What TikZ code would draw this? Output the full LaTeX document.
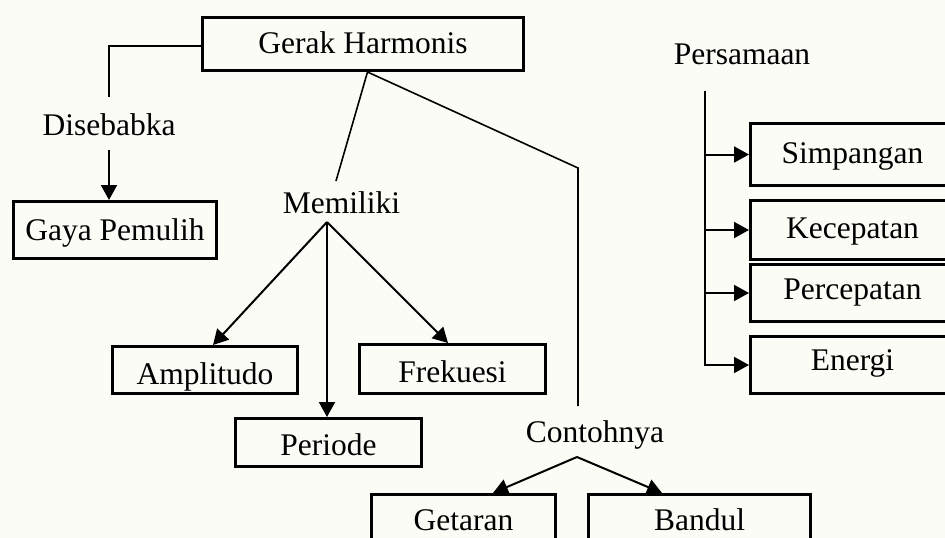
\documentclass[tikz,border=0pt]{standalone}
\usepackage{fontspec}
\setmainfont{Liberation Serif}
\usetikzlibrary{arrows.meta}
\definecolor{paper}{RGB}{252,252,247}
\tikzset{
  box/.style={draw, line width=3pt, inner sep=0pt, text depth=0pt, anchor=center},
  word/.style={inner sep=0pt, anchor=base},
  link/.style={line width=1.6pt},
  arr/.style={line width=2pt, -{Triangle[length=15pt,width=16pt]}},
}
\begin{document}
\begin{tikzpicture}[x=1pt, y=-1pt, font=\fontsize{31.5pt}{37pt}\selectfont]
  \useasboundingbox (0,0) rectangle (945,538);
  \clip (0,0) rectangle (945,538);
  \fill[paper] (0,0) rectangle (945,538);

  % boxes
  \node[box, minimum width=321pt, minimum height=53pt, text height=18pt] (gh) at (363,44) {Gerak Harmonis};
  \node[box, minimum width=203pt, minimum height=57pt, text height=20pt] (gp) at (115,230) {Gaya Pemulih};
  \node[box, minimum width=185pt, minimum height=47pt, text height=28pt] (amp) at (205,370) {Amplitudo};
  \node[box, minimum width=186pt, minimum height=48pt, text height=25pt] (per) at (328.5,442.5) {Periode};
  \node[box, minimum width=186pt, minimum height=49pt, text height=26pt] (frek) at (452.5,369) {Frekuesi};
  \node[box, minimum width=204pt, minimum height=62pt, text height=17pt] (simp) at (852.5,154.5) {Simpangan};
  \node[box, minimum width=204pt, minimum height=59pt, text height=16pt] (kec) at (852.5,230) {Kecepatan};
  \node[box, minimum width=204pt, minimum height=57pt, text height=12pt] (perc) at (852.5,293) {Percepatan};
  \node[box, minimum width=204pt, minimum height=57pt, text height=10pt] (energ) at (852.5,365) {Energi};
  \node[box, minimum width=184pt, minimum height=53pt, text height=18pt] (get) at (463.5,521) {Getaran};
  \node[box, minimum width=222pt, minimum height=53pt, text height=18pt] (band) at (699.5,521) {Bandul};

  % linking words
  \node[word] (dis) at (109,135) {Disebabka};
  \node[word] (mem) at (341.5,213) {Memiliki};
  \node[word] (pers) at (742,64) {Persamaan};
  \node[word] (cont) at (595,442) {Contohnya};

  % connector ends around the linking words
  \coordinate (distop) at (109,97);
  \coordinate (disbot) at (109,150);
  \coordinate (ghfoot) at ([xshift=4.5pt]gh.south);
  \coordinate (memtop) at (336,181);
  \coordinate (memfoot) at (327,222);
  \coordinate (bend) at (578,168);
  \coordinate (conttop) at (578,406);
  \coordinate (contfoot) at (577,457);
  \coordinate (ptop) at (705,91);

  % Gerak Harmonis -> Disebabka -> Gaya Pemulih
  \draw[link, line width=2pt] ([yshift=-2pt]gh.west) -| (distop);
  \draw[arr] (disbot) -- (disbot |- gp.north);

  % Gerak Harmonis -> Memiliki -> properties
  \draw[link] (ghfoot) -- (memtop);
  \draw[arr] (memfoot) -- ([xshift=8pt]amp.north);
  \draw[arr] (memfoot) -- (memfoot |- per.north);
  \draw[arr] (memfoot) -- ([xshift=-4.5pt]frek.north);

  % Gerak Harmonis -> Contohnya -> examples
  \draw[link] (ghfoot) -- (bend) -- (conttop);
  \draw[arr] (contfoot) -- ([xshift=29.5pt]get.north);
  \draw[arr] (contfoot) -- ([xshift=-37.5pt]band.north);

  % Persamaan spine
  \draw[arr] (ptop) |- (energ.west);
  \draw[arr] (ptop |- simp.west) -- (simp.west);
  \draw[arr] (ptop |- kec.west) -- (kec.west);
  \draw[arr] (ptop |- perc.west) -- (perc.west);
\end{tikzpicture}
\end{document}
